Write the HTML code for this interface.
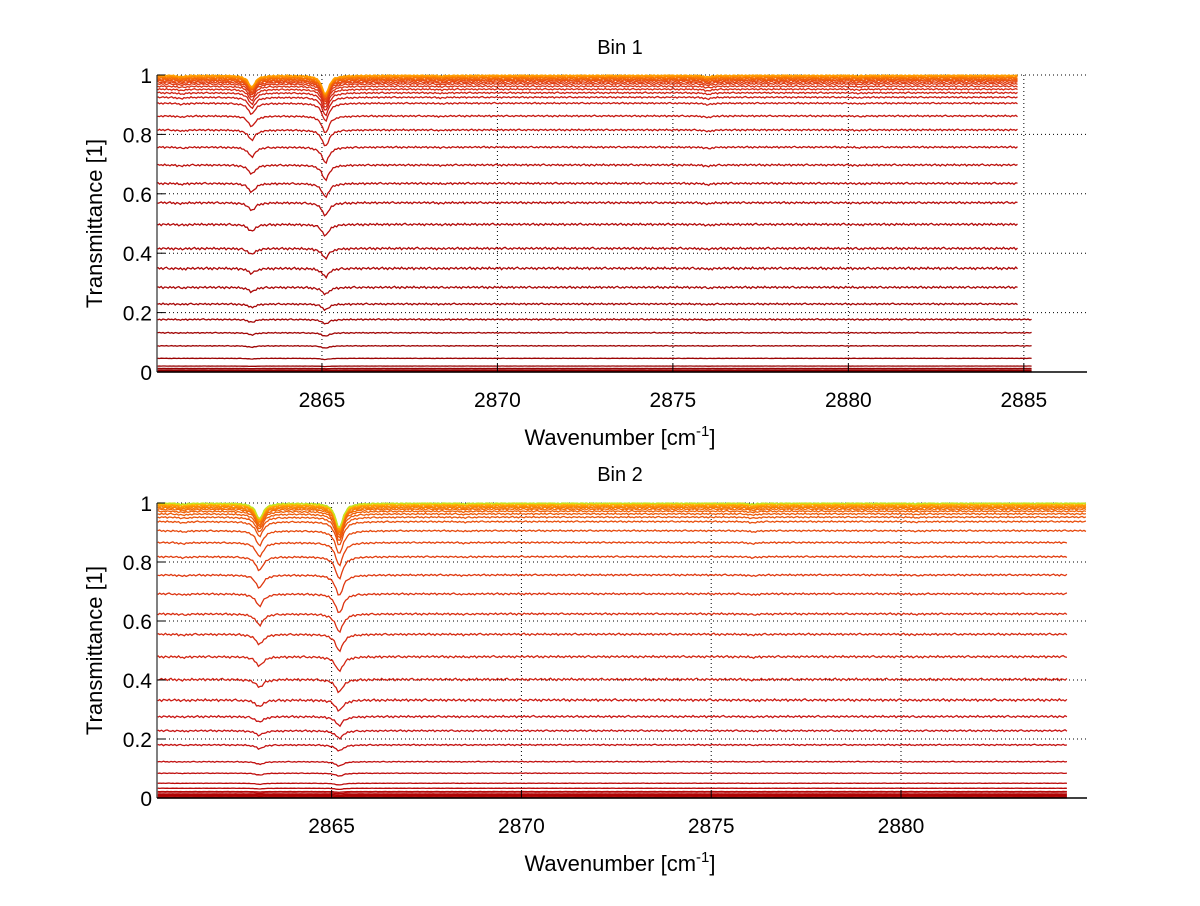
<!DOCTYPE html>
<html><head><meta charset="utf-8">
<style>
html,body{margin:0;padding:0;background:#fff;}
svg text{font-family:"Liberation Sans",Arial,sans-serif;fill:#000;}
</style></head>
<body>
<svg id="fig" width="1200" height="901" viewBox="0 0 1200 901" xmlns="http://www.w3.org/2000/svg">
<rect width="1200" height="901" fill="#fff"/>
<g id="p1"></g>
<g id="p2"></g>
</svg>
<script>
// ---- data ----
const bin1Levels = [0,0.003,0.007,0.012,0.02,0.046,0.088,0.132,0.177,0.229,0.285,0.349,0.416,0.497,0.57,0.635,0.697,0.757,0.815,0.862,0.905,0.925,0.94,0.952,0.962,0.97,0.976,0.981,0.985,0.989,0.992,0.995,0.997,0.999];
const bin2Levels = [0,0.004,0.008,0.012,0.017,0.022,0.033,0.05,0.084,0.123,0.18,0.228,0.276,0.332,0.402,0.479,0.555,0.624,0.692,0.756,0.818,0.866,0.906,0.937,0.952,0.963,0.972,0.979,0.984,0.988,0.992,0.995,0.998,1.0];
const bin1Lines = [2861.0,2863.0,2865.1,2868.4,2876.0,2880.3];
const bin1Depths = [0.006,0.055,0.09,0.003,0.008,0.003];
const bin2Lines = [2861.1,2863.1,2865.2,2868.5,2876.1,2880.4];
const bin2Depths = [0.006,0.075,0.12,0.003,0.006,0.003];
const wiggle = [0.004,-0.002,0.003,-0.004,0.001,0.005,-0.003,0.002,-0.005,0.003,0.000,-0.004,0.004,-0.001,0.002,-0.003,0.005,-0.002,0.001,-0.004,0.003,-0.001,0.004,-0.005,0.002,0.001,-0.003,0.004,-0.002,0.003,-0.004,0.002,0.005,-0.001,-0.003,0.002,-0.004,0.003,0.001,-0.002,0.004,-0.003,0.002,-0.005,0.003,0.001,-0.002,0.004,-0.003,0.000];
const bin1XTicks = [2865,2870,2875,2880,2885];
const bin2XTicks = [2865,2870,2875,2880];
const yTicks = [0,0.2,0.4,0.6,0.8,1];

const NS='http://www.w3.org/2000/svg';
function mk(tag,attrs,parent){const e=document.createElementNS(NS,tag);for(const k in attrs)e.setAttribute(k,attrs[k]);parent.appendChild(e);return e;}
function lerp(a,b,t){return a+(b-a)*t;}
function cmap(stops,t){
  for(let i=0;i<stops.length-1;i++){
    const [t0,c0]=stops[i],[t1,c1]=stops[i+1];
    if(t<=t1){const u=(t-t0)/(t1-t0);return 'rgb('+c0.map((c,j)=>Math.round(lerp(c,c1[j],Math.max(0,Math.min(1,u))))).join(',')+')';}
  }
  return 'rgb('+stops[stops.length-1][1].join(',')+')';
}
function panel(g,cfg){
  const {L,R,T,B,x0,x1,levels,lines,depths,xticks,title,titleY,xlabY,stops,endX,endXLow,lowCut}=cfg;
  const xs=v=>L+(v-x0)/(x1-x0)*(R-L);
  const ys=v=>B-v*(B-T);
  yTicks.forEach(v=>{ if(v>0){const l=mk('line',{x1:L,x2:R,y1:ys(v),y2:ys(v),stroke:'#000','stroke-width':1,'stroke-dasharray':'1,3'},g);
    
    }});
  xticks.forEach(v=>{const l=mk('line',{x1:xs(v),x2:xs(v),y1:T,y2:B,stroke:'#000','stroke-width':1,'stroke-dasharray':'1,3'},g);
    
    });
  const n=levels.length;
  levels.forEach((lev,i)=>{
    const end = lev<lowCut ? endXLow : endX;
    let pts=[];
    for(let x=x0+0.02,k=0;x<=end;x+=0.05,k++){
      let a=0;
      lines.forEach((c,j)=>{const d=(x-c)/0.12;a+=depths[j]/(1+d*d);});
      const w=wiggle[(k+i*7)%wiggle.length]*Math.min(1,lev*3);
      const v=lev*(1-a*(1-lev*0.3))+w*(1-lev*0.5);
      pts.push(xs(x).toFixed(1)+','+ys(Math.max(0,Math.min(1,v))).toFixed(1));
    }
    const p=mk('polyline',{points:pts.join(' '),fill:'none',stroke:cmap(stops,i/(n-1)),'stroke-width':1.3},g);
    
    
  });
  const ax=mk('line',{x1:L,x2:R,y1:B,y2:B,stroke:'#000','stroke-width':1.5},g);
  
  
  const ay=mk('line',{x1:L,x2:L,y1:T,y2:B,stroke:'#000','stroke-width':1},g);
  
  
  yTicks.forEach(v=>{
    const tl=mk('line',{x1:L,x2:L+8,y1:ys(v),y2:ys(v),stroke:'#000'},g);
    
    
    const t=mk('text',{x:L-5,y:ys(v)+8,'text-anchor':'end','font-size':21},g);
    t.textContent=String(v);
    
    
  });
  xticks.forEach(v=>{
    const tl=mk('line',{x1:xs(v),x2:xs(v),y1:B,y2:B-8,stroke:'#000'},g);
    
    
    const t=mk('text',{x:xs(v),y:B+35,'text-anchor':'middle','font-size':21},g);
    t.textContent=String(v);
    
    
  });
  const tt=mk('text',{x:620,y:titleY,'text-anchor':'middle','font-size':20},g);
  tt.textContent=title;
  
  
  const xl=mk('text',{x:620,y:xlabY,'text-anchor':'middle','font-size':22},g);
  xl.innerHTML='Wavenumber [cm<tspan dy="-9" font-size="15">-1</tspan><tspan dy="9">]</tspan>';
  
  
  const yl=mk('text',{x:0,y:0,'text-anchor':'middle','font-size':22,transform:`translate(102,${(T+B)/2}) rotate(-90)`},g);
  yl.textContent='Transmittance [1]';
  
  
}
const s1=[[0,[140,0,0]],[0.4,[180,10,10]],[0.65,[205,30,20]],[0.8,[230,70,20]],[0.92,[250,120,0]],[1,[255,160,0]]];
const s2=[[0,[170,0,0]],[0.35,[200,20,20]],[0.6,[225,60,15]],[0.8,[240,100,10]],[0.93,[255,160,0]],[0.98,[250,210,0]],[1,[190,230,40]]];
panel(document.getElementById('p1'),{L:157,R:1087,T:75,B:372,x0:2860.3,x1:2886.8,levels:bin1Levels,lines:bin1Lines,depths:bin1Depths,xticks:bin1XTicks,title:'Bin 1',titleY:54,xlabY:445,stops:s1,endX:2884.85,endXLow:2885.25,lowCut:0.2});
panel(document.getElementById('p2'),{L:157,R:1087,T:503,B:798,x0:2860.4,x1:2884.9,levels:bin2Levels,lines:bin2Lines,depths:bin2Depths,xticks:bin2XTicks,title:'Bin 2',titleY:481,xlabY:871,stops:s2,endX:2884.9,endXLow:2884.4,lowCut:0.9});
</script>
</body></html>
